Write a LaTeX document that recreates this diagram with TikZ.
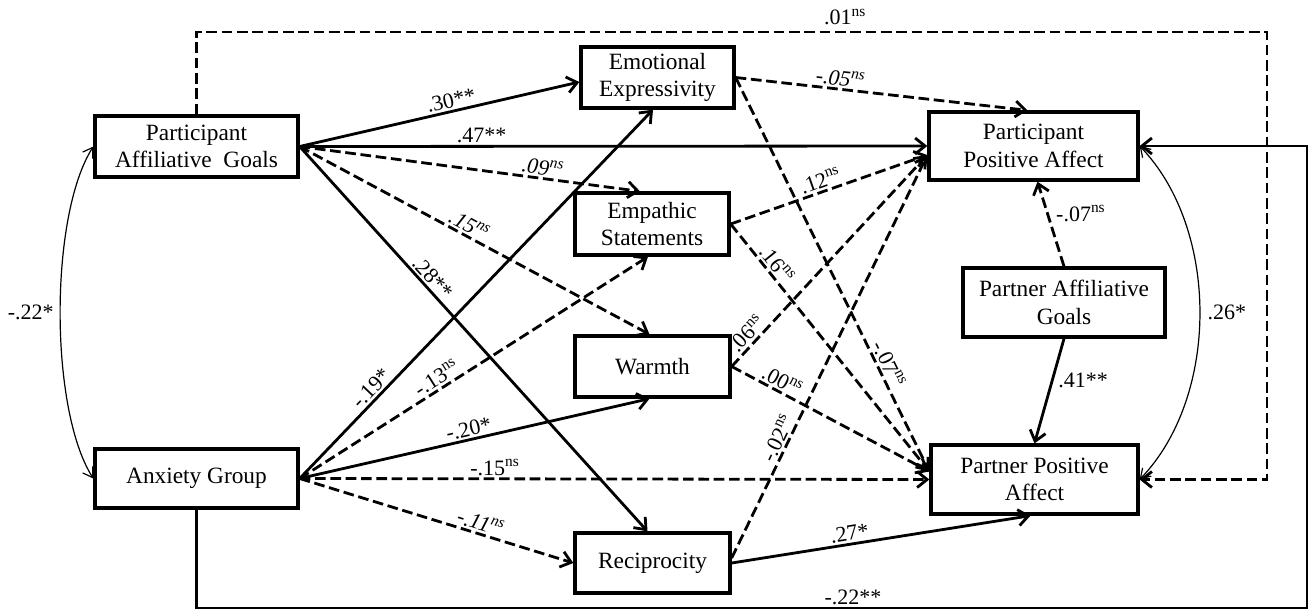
\documentclass[tikz,border=0pt]{standalone}
\usepackage{fontspec}
\setmainfont{Liberation Serif}
\usetikzlibrary{arrows.meta,calc}
\newcommand\nsx{\textsuperscript{ns}}
\newcommand\nsi{\textsuperscript{\itshape ns}}
\tikzset{
  box/.style={draw, line width=2.5pt, inner sep=0pt, align=center, font=\fontsize{17.5}{20.5}\selectfont},
  lbl/.style={font=\fontsize{16.5}{18}\selectfont, inner sep=1.5pt},
  sol/.style={line width=2.1pt, -{Straight Barb[length=7.5pt,width=12pt]}},
  dsh/.style={sol, dash pattern=on 8pt off 3.5pt},
  thinc/.style={line width=0.9pt, {Straight Barb[length=7pt,width=9pt]}-{Straight Barb[length=7pt,width=9pt]}},
}
\begin{document}
\begin{tikzpicture}[x=0.75pt,y=-0.75pt]
\useasboundingbox (0,0) rectangle (1314,611);
% nodes
\node[box, minimum width=152.25pt, minimum height=45.75pt] (pag) at (196.5,146.5) {Participant\\Affiliative~ Goals};
\node[box, minimum width=152.25pt, minimum height=44.25pt] (ag) at (196.5,478.5) {Anxiety Group};
\node[box, minimum width=114.75pt, minimum height=45.75pt] (ee) at (657.5,77.5) {Emotional\\Expressivity};
\node[box, minimum width=115.5pt, minimum height=46.5pt] (es) at (652,224) {Empathic\\Statements};
\node[box, minimum width=116.25pt, minimum height=45.75pt] (wa) at (652.5,366.5) {Warmth};
\node[box, minimum width=116.25pt, minimum height=45pt] (re) at (652.5,563) {Reciprocity};
\node[box, minimum width=156.75pt, minimum height=51pt] (ppa) at (1033.5,146) {Participant\\Positive Affect};
\node[box, minimum width=151.5pt, minimum height=51.75pt] (pag2) at (1064,302.5) {Partner Affiliative\\Goals};
\node[box, minimum width=155.25pt, minimum height=51.75pt] (ppa2) at (1034.5,479.5) {Partner Positive\\Affect};
% attachment points
\coordinate (eeIn1) at ($(ee.west)+(0,4.5)$);
\coordinate (eeIn2) at ($(ee.south)+(-4.5,0)$);
\coordinate (esIn1) at ($(es.north)+(-12,0)$);
\coordinate (esIn2) at ($(es.south)+(-4,0)$);
\coordinate (waIn1) at ($(wa.north)+(-3,0)$);
\coordinate (waIn2) at ($(wa.south)+(-3,0)$);
\coordinate (reIn1) at ($(re.north)+(-5,0)$);
\coordinate (ppaIn) at ($(ppa.west)+(0,9)$);
\coordinate (ppaTop) at ($(ppa.north)+(-6,0)$);
\coordinate (ppaBot) at ($(ppa.south)+(4,0)$);
\coordinate (ppa2In) at ($(ppa2.west)+(0,-8)$);
\coordinate (ppa2Bot) at ($(ppa2.south)+(-4,0)$);
\coordinate (reOut1) at ($(re.east)+(0,-5)$);
\coordinate (tr) at (1267,32);
\coordinate (br) at (1307,608);
% from participant affiliative goals
\draw[sol] (pag.east) -- (eeIn1) node[lbl,pos=0.55,above,sloped]{.30**};
\draw[sol] (pag.east) -- (ppa.west) node[lbl,pos=0.29,above]{.47**};
\draw[dsh] (pag.east) -- (esIn1) node[lbl,pos=0.71,above,sloped]{\itshape .09\nsi};
\draw[dsh] (pag.east) -- (waIn1) node[lbl,pos=0.47,above,sloped]{\itshape .15\nsi};
\draw[sol] (pag.east) -- (reIn1) node[lbl,pos=0.36,above,sloped]{.28**};
% from anxiety group
\draw[sol] (ag.east) -- (eeIn2) node[lbl,pos=0.225,above,sloped]{-.19*};
\draw[dsh] (ag.east) -- (esIn2) node[lbl,pos=0.41,above,sloped]{-.13\nsx};
\draw[sol] (ag.east) -- (waIn2) node[lbl,pos=0.49,above,sloped]{-.20*};
\draw[dsh] (ag.east) -- (ppa2.west) node[lbl,pos=0.31,above]{-.15\nsx};
\draw[dsh] (ag.east) -- (re.west) node[lbl,pos=0.65,above,sloped]{\itshape -.11\nsx};
% mediators to outcomes
\draw[dsh] (ee.east) -- (ppaTop) node[lbl,pos=0.355,above,sloped]{\itshape -.05\nsi};
\draw[dsh] (ee.east) -- (ppa2In) node[lbl,pos=0.74,above,sloped]{-.07\nsx};
\draw[dsh] (es.east) -- (ppaIn) node[lbl,pos=0.475,above,sloped]{.12\nsx};
\draw[dsh] (es.east) -- (ppa2In) node[lbl,pos=0.19,above,sloped]{.16\nsx};
\draw[dsh] (wa.east) -- (ppaIn) node[lbl,pos=0.12,above,sloped]{.06\nsx};
\draw[dsh] (wa.east) -- (ppa2In) node[lbl,pos=0.23,above,sloped]{.00\nsx};
\draw[dsh] (reOut1) -- (ppaIn) node[lbl,pos=0.285,above,sloped]{-.02\nsx};
\draw[sol] (re.east) -- (ppa2Bot) node[lbl,pos=0.40,above,sloped]{.27*};
% partner affiliative goals
\draw[dsh] (pag2.north) -- (ppaBot) node[lbl,pos=0.625,right=4pt]{-.07\nsx};
\draw[sol] (pag2.south) -- (ppa2.north) node[lbl,pos=0.4,right=2pt]{.41**};
% covariances
\draw[thinc] (pag.west) .. controls +(-44,69) and +(-44,-69) .. (ag.west) node[lbl,midway,left=3pt]{-.22*};
\draw[thinc] (ppa.east) .. controls +(80,83) and +(80,-83) .. (ppa2.east) node[lbl,midway,right=4pt]{.26*};
% long paths
\draw[dsh] (pag.north) |- (tr) |- (ppa2.east);
\node[lbl] (l01) at (845,17) {.01\nsx};
\draw[sol] (ag.south) |- (br) |- (ppa.east);
\node[lbl] (l22) at (853,597) {-.22**};
\end{tikzpicture}
\end{document}
